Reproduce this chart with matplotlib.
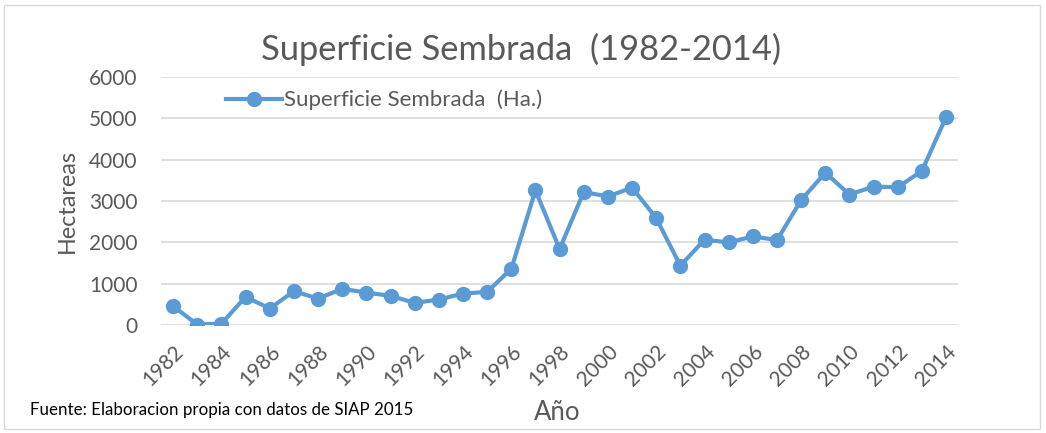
import matplotlib
matplotlib.use('Agg')
import matplotlib.pyplot as plt
from matplotlib.patches import Rectangle

# Datos: superficie sembrada (Ha.) por año
anios = list(range(1982, 2015))
superficie = [459, 15, 40, 684, 403, 821, 644, 878, 789, 709, 539, 620, 765, 805,
              1361, 3261, 1841, 3223, 3111, 3328, 2588, 1439, 2066, 2002, 2146, 2058,
              3022, 3690, 3159, 3352, 3336, 3730, 5032]
ticks_x = list(range(1982, 2015, 2))
ticks_y = [0, 1000, 2000, 3000, 4000, 5000, 6000]

plt.rcParams['font.family'] = ['Lato', 'DejaVu Sans']
gris = '#595959'
azul = '#5B9BD5'

fig = plt.figure(figsize=(10.46, 4.33), dpi=100)
ax = fig.add_axes([0.154, 0.249, 0.762, 0.573])

ax.plot(anios, superficie, color=azul, linewidth=3, marker='o', markersize=10,
        label='Superficie Sembrada  (Ha.)', zorder=3)

ax.set_xlim(1981.5, 2014.5)
ax.set_ylim(0, 6000)
ax.set_yticks(ticks_y)
ax.set_xticks(ticks_x)
ax.set_xticklabels([str(t) for t in ticks_x], rotation=45, ha='right',
                   rotation_mode='anchor', fontsize=15, color=gris)
ax.tick_params(axis='y', labelsize=15, colors=gris, length=0, pad=17)
ax.tick_params(axis='x', length=0, pad=12)
ax.grid(axis='y', color='#D9D9D9', linewidth=1.2, zorder=0)
for s in ax.spines.values():
    s.set_visible(False)

ax.set_ylabel('Hectareas', fontsize=16.8, color=gris, labelpad=8)
fig.text(0.533, 0.048, 'Año', fontsize=18.5, color=gris, ha='center', va='center')
fig.text(0.029, 0.053, 'Fuente: Elaboracion propia con datos de SIAP 2015',
         fontsize=12.2, color='black', ha='left', va='center')
fig.text(0.498, 0.885, 'Superficie Sembrada  (1982-2014)', fontsize=24.8,
         color=gris, ha='center', va='center')

leg = ax.legend(loc='center left', bbox_to_anchor=(0.07, 0.907), frameon=False,
                fontsize=16, handlelength=2.55, handletextpad=0.05, borderaxespad=0)
for t in leg.get_texts():
    t.set_color(gris)

fig.patches.append(Rectangle((0.004, 0.01), 0.99, 0.978, transform=fig.transFigure,
                             fill=False, edgecolor='#D9D9D9', linewidth=1))

fig.savefig('out.png', dpi=100)
